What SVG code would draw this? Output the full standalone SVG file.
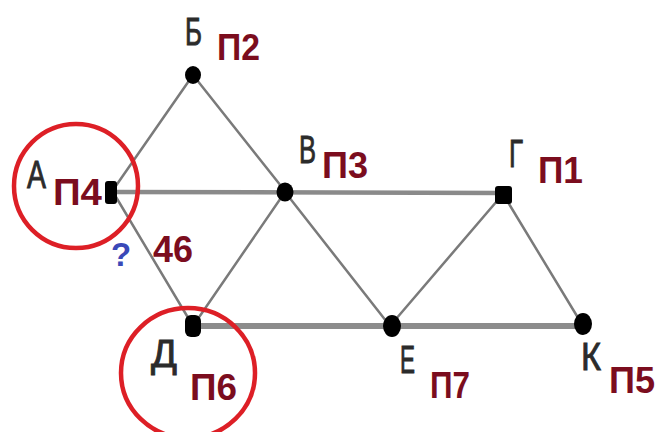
<svg xmlns="http://www.w3.org/2000/svg" width="655" height="432" viewBox="0 0 655 432">
  <style>
    .edge { stroke: #7a7a7a; stroke-width: 2.5; stroke-linecap: round; fill: none; }
    .road { stroke: #8a8a8a; stroke-width: 4.5; fill: none; }
    .road-wide { stroke: #8c8c8c; stroke-width: 6; fill: none; }
    .dot { fill: #000; }
    .name { font-family: "Liberation Sans", Arial, sans-serif; font-size: 38px; fill: #2b2b2b; stroke: #2b2b2b; stroke-width: 0.9; }
    .tag { font-family: "Liberation Sans", Arial, sans-serif; font-weight: bold; font-size: 37px; fill: #7b0d1e; }
    .ring { fill: none; stroke: #dd1f26; stroke-width: 4.5; }
  </style>
  <rect width="655" height="432" fill="#fff"/>

  <g id="connectors">
    <line class="road" x1="113" y1="192" x2="503" y2="193"/>
    <line class="road-wide" x1="193" y1="326" x2="583" y2="326"/>
    <line class="edge" x1="193" y1="75" x2="113" y2="190"/>
    <line class="edge" x1="193" y1="75" x2="285" y2="191"/>
    <line class="edge" x1="113" y1="192" x2="193" y2="326"/>
    <line class="edge" x1="285" y1="192" x2="193" y2="326"/>
    <line class="edge" x1="285" y1="192" x2="390" y2="326"/>
    <line class="edge" x1="503" y1="194" x2="390" y2="326"/>
    <line class="edge" x1="503" y1="194" x2="583" y2="326"/>
  </g>

  <g id="node-B">
    <ellipse class="dot" cx="193" cy="75" rx="8" ry="9"/>
    <text class="name" x="185" y="45" textLength="17" lengthAdjust="spacingAndGlyphs">Б</text>
    <text class="tag" x="217" y="60" textLength="43" lengthAdjust="spacingAndGlyphs">П2</text>
  </g>

  <g id="node-A">
    <rect class="dot" x="105" y="181" width="12" height="23" rx="3"/>
    <text class="name" x="27" y="188" textLength="19" lengthAdjust="spacingAndGlyphs">А</text>
    <text class="tag" x="53" y="205" textLength="49" lengthAdjust="spacingAndGlyphs">П4</text>
    <circle class="ring" cx="76" cy="186" r="62"/>
  </g>

  <g id="node-V">
    <ellipse class="dot" cx="285" cy="192" rx="8.5" ry="9.5"/>
    <text class="name" x="299" y="163" textLength="17" lengthAdjust="spacingAndGlyphs">В</text>
    <text class="tag" x="322" y="178" textLength="46" lengthAdjust="spacingAndGlyphs">П3</text>
  </g>

  <g id="node-G">
    <rect class="dot" x="495" y="186" width="17" height="18" rx="3"/>
    <text class="name" x="509" y="167" textLength="14" lengthAdjust="spacingAndGlyphs">Г</text>
    <text class="tag" x="538" y="183" textLength="45" lengthAdjust="spacingAndGlyphs">П1</text>
  </g>

  <g id="node-D">
    <rect class="dot" x="185" y="315" width="16" height="22" rx="6"/>
    <text class="name" x="151" y="367" textLength="26" lengthAdjust="spacingAndGlyphs">Д</text>
    <text class="tag" x="190" y="400" textLength="47" lengthAdjust="spacingAndGlyphs">П6</text>
    <ellipse class="ring" cx="188" cy="373" rx="67" ry="65"/>
  </g>

  <g id="node-E">
    <ellipse class="dot" cx="392" cy="326" rx="9" ry="11"/>
    <text class="name" x="400" y="373" textLength="15" lengthAdjust="spacingAndGlyphs">Е</text>
    <text class="tag" x="430" y="398" textLength="40" lengthAdjust="spacingAndGlyphs">П7</text>
  </g>

  <g id="node-K">
    <ellipse class="dot" cx="583" cy="324" rx="9" ry="11"/>
    <text class="name" x="581" y="370" textLength="20" lengthAdjust="spacingAndGlyphs">К</text>
    <text class="tag" x="609" y="393" textLength="46" lengthAdjust="spacingAndGlyphs">П5</text>
  </g>

  <g id="edge-labels">
    <text class="tag" x="153" y="262" textLength="40" lengthAdjust="spacingAndGlyphs">46</text>
    <text x="111" y="266" font-family="Liberation Sans, Arial, sans-serif" font-weight="bold" font-size="33" fill="#3a49b8">?</text>
  </g>
</svg>
